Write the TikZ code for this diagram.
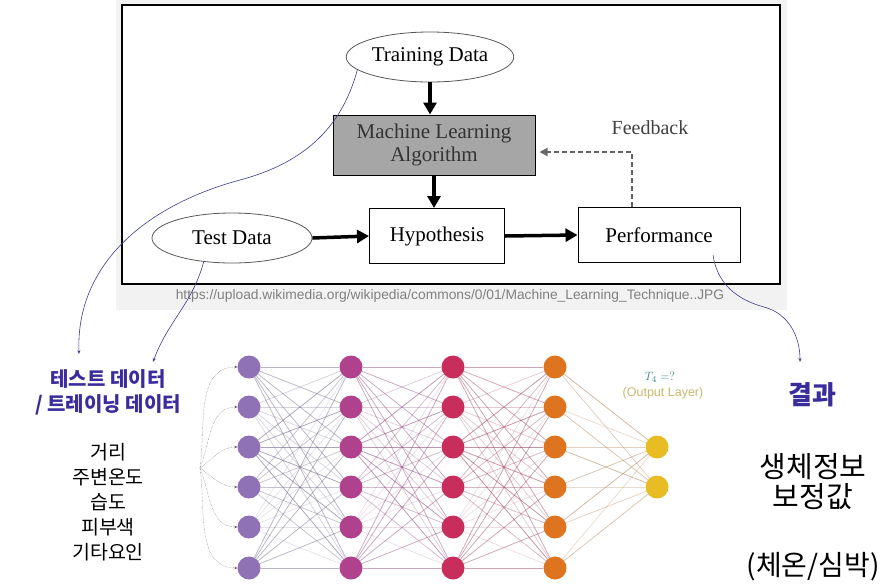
\documentclass[tikz,border=0pt]{standalone}
\usepackage{fontspec}
\setmainfont{Liberation Serif}
\newfontfamily\kr{Noto Sans CJK KR}
\newfontfamily\urlfont{Liberation Sans}
\usetikzlibrary{arrows.meta,shapes.geometric}

\definecolor{labelblue}{HTML}{3A2C9C}
\definecolor{curveblue}{HTML}{3C3C8C}
\definecolor{layA}{HTML}{8E72B5}
\definecolor{layB}{HTML}{B0418C}
\definecolor{layC}{HTML}{C92D5C}
\definecolor{layD}{HTML}{DE7420}
\definecolor{layE}{HTML}{E8BC24}
\definecolor{edgea}{HTML}{6E6284}
\definecolor{edgeb}{HTML}{8E4A7C}
\definecolor{edgec}{HTML}{9A4062}
\definecolor{edged}{HTML}{B08A60}

\tikzset{
  flowbox/.style={draw, line width=1pt, fill=white, align=center, font=\fontsize{21}{23}\selectfont},
  flowdata/.style={draw=gray!70!black, ellipse, line width=0.8pt, fill=white, minimum height=50pt, inner sep=1pt, font=\fontsize{21}{23}\selectfont},
  fatarrow/.style={-{Triangle[length=12pt,width=13pt]}, line width=3.5pt},
  pointer/.style={-{Stealth[length=4pt,width=3pt]}, draw=curveblue, line width=0.6pt},
  neuron/.style={circle, minimum size=23pt, inner sep=0pt},
  synapse/.style={line width=0.75pt},
  korlabel/.style={align=center, font=\kr\fontsize{19.5}{25}\selectfont},
}

\begin{document}
\begin{tikzpicture}[x=1pt,y=1pt]
    \useasboundingbox (0,0) rectangle (882,-587);

    % screenshot of the flow chart
    \fill [gray!10] (116,0) rectangle (787,-310);
    \draw [line width=2pt, fill=white] (122,-5) rectangle (780,-284);

    \node [flowdata, minimum width=165pt] at (430,-57) (train) {Training Data};
    \node [flowbox, fill=gray!70, text=black!80, minimum width=202pt, minimum height=60pt] at (434,-145) (mla) {Machine Learning\\Algorithm};
    \node [flowbox, minimum width=135pt, minimum height=55pt] at (437,-236) (hyp) {Hypothesis};
    \node [flowdata, minimum width=160pt] at (232,-238) (test) {Test Data};
    \node [flowbox, minimum width=162pt, minimum height=55pt] at (659,-235) (perf) {Performance};
    \node [font=\fontsize{20}{22}\selectfont, text=black!75] at (650,-128) (fb) {Feedback};
    \node [font=\urlfont\fontsize{13.8}{15}\selectfont, text=gray] at (450,-296) (url) {https://upload.wikimedia.org/wikipedia/commons/0/01/Machine\_Learning\_Technique..JPG};

    \path [fatarrow, draw] (train.south) -- (train.south |- mla.north);
    \path [fatarrow, draw] (mla.south) -- (mla.south |- hyp.north);
    \path [fatarrow, draw] (test.east) -- (hyp.west);
    \path [fatarrow, draw] (hyp.east) -- (perf.west);
    \path [draw, dash pattern=on 5pt off 3pt, gray!80!black, line width=1.3pt, -{Triangle[length=8pt,width=8pt]}] ([xshift=-27pt]perf.north) |- ([xshift=4pt,yshift=-7pt]mla.east);

    % neural network
    \foreach \l/\x/\c in {a/249/layA, b/351/layB, c/453/layC, d/555/layD}{
        \foreach \i/\y in {1/367, 2/407, 3/447, 4/487, 5/527, 6/568}{
            \node [neuron, fill=\c] at (\x,-\y) (\l\i) {};
        }
    }
    \node [neuron, fill=layE] at (657,-447) (e1) {};
    \node [neuron, fill=layE] at (657,-487) (e2) {};

    \foreach \p/\q in {a/b, b/c, c/d}{
        \foreach \i in {1,...,6}{
            \foreach \j in {1,...,6}{
                \pgfmathsetmacro\op{0.18+0.1*mod(\i*3+\j*5,5)}
                \path [synapse, draw=edge\p, draw opacity=\op] (\p\i) -- (\q\j);
            }
        }
    }
    \foreach \i in {1,...,6}{
        \foreach \j in {1,2}{
            \pgfmathsetmacro\op{0.3+0.1*mod(\i+\j*2,4)}
            \path [synapse, draw=edged, draw opacity=\op] (d\i) -- (e\j);
        }
    }

    \coordinate (fan) at (200,-468);
    \foreach \i/\a in {1/82, 2/68, 3/35, 4/-35, 5/-68, 6/-82}{
        \path [draw, densely dotted, gray!70!black, -{Stealth[length=3pt,width=2.5pt]}] (fan) to[out=\a,in=180] (a\i);
    }

    \node [font=\fontsize{12.5}{14}\selectfont, text=teal!60!gray] at (660,-377) (tlbl) {$T_4 = ?$};
    \node [font=\urlfont\fontsize{12.5}{14}\selectfont, text=layE!60!gray!80] at (663,-393) (olbl) {(Output Layer)};

    % korean labels
    \node [korlabel, font=\kr\bfseries\fontsize{20}{25}\selectfont, text=labelblue] at (108,-392) (datalbl) {테스트 데이터\\/ 트레이닝 데이터};
    \node [korlabel] at (108,-502) (feat) {거리\\주변온도\\습도\\피부색\\기타요인};
    \node [korlabel, font=\kr\bfseries\fontsize{26}{28}\selectfont, text=labelblue] at (812,-395) (res) {결과};
    \node [korlabel, font=\kr\fontsize{29}{30}\selectfont] at (813,-482) (bio) {생체정보\\보정값};
    \node [korlabel, font=\kr\fontsize{28}{30}\selectfont] at (813,-567) (vital) {(체온/심박)};

    % pointers
    \coordinate (trainBend) at (240,-180);
    \coordinate (trainEnd) at (79,-354);
    \coordinate (testEnd) at (153,-362);
    \coordinate (perfStart) at ([xshift=54pt,yshift=-20pt]perf.center);
    \coordinate (perfBend) at (764,-307);
    \coordinate (resEnd) at (800,-362);

    \path [pointer] (train.190) to[out=-105,in=15] (trainBend) to[out=195,in=92] (trainEnd);
    \path [pointer] (test.220) to[out=-105,in=70] (testEnd);
    \path [pointer] (perfStart) to[out=-82,in=165] (perfBend) to[out=-15,in=90] (resEnd);

\end{tikzpicture}
\end{document}
